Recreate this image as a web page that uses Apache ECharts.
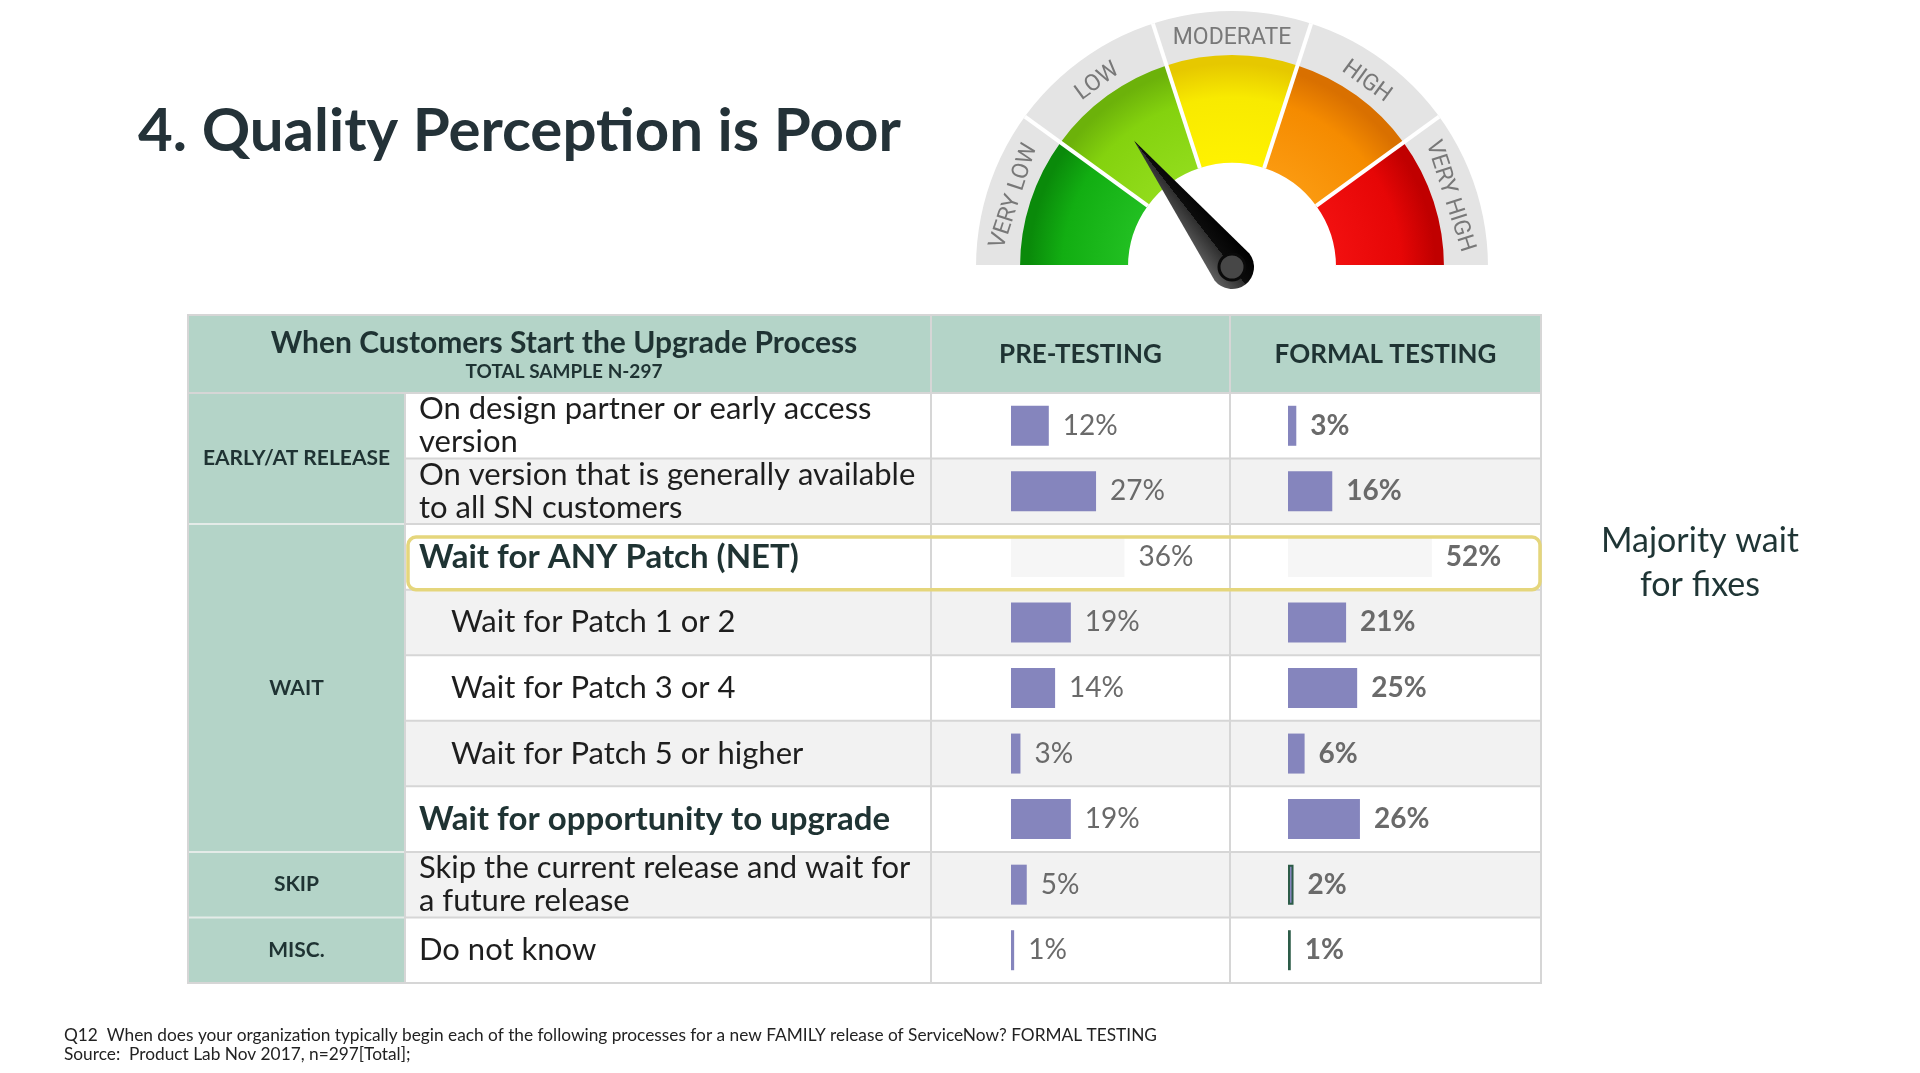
<!DOCTYPE html>
<html>
<head>
<meta charset="utf-8">
<title>Quality Perception is Poor</title>
<script src="https://cdn.jsdelivr.net/npm/echarts@6/dist/echarts.min.js"></script>
<style>
  html, body { margin: 0; padding: 0; background: #fff; }
  #mainChart { width: 1920px; height: 1073px; }
</style>
</head>
<body>
<div id="mainChart"></div>
<script>
// ---- data ----
var categories = [
    "On design partner or early access\nversion",
    "On version that is generally available\nto all SN customers",
    "Wait for ANY Patch (NET)",
    "Wait for Patch 1 or 2",
    "Wait for Patch 3 or 4",
    "Wait for Patch 5 or higher",
    "Wait for opportunity to upgrade",
    "Skip the current release and wait for\na future release",
    "Do not know"
];
var preTesting = [12, 27, 36, 19, 14, 3, 19, 5, 1];
var formalTesting = [3, 16, 52, 21, 25, 6, 26, 2, 1];
var groupNames = ["EARLY/AT RELEASE", "WAIT", "SKIP", "MISC."];
var groupSpans = [2, 5, 1, 1];
var columnTitles = ["PRE-TESTING", "FORMAL TESTING"];
var gaugeBands = ["VERY LOW", "LOW", "MODERATE", "HIGH", "VERY HIGH"];
var needleValue = 1.45;

(function () {
    "use strict";

    // ---- 表格几何 ----
    var COLS = [188, 405, 931, 1230, 1541];
    var HEAD_TOP = 315, BODY_TOP = 393, BODY_BOTTOM = 983;
    var rowH = (BODY_BOTTOM - BODY_TOP) / categories.length;
    var NET_ROW = 2;
    var boldRows = [2, 6];
    var indentRows = [3, 4, 5];
    var LINE = "#d6d6d6";
    var SAGE = "#b4d4c8";
    var INK = "#1f3333";
    var BAR = "#8585bd";
    var GC = [1232, 267];   // 仪表盘中心

    function rowTop(i) { return BODY_TOP + i * rowH; }

    var g = [];
    // 背景
    g.push({ type: "rect", z: -10, shape: { x: COLS[0], y: HEAD_TOP, width: COLS[4] - COLS[0], height: BODY_TOP - HEAD_TOP }, style: { fill: SAGE } });
    g.push({ type: "rect", z: -10, shape: { x: COLS[0], y: BODY_TOP, width: COLS[1] - COLS[0], height: BODY_BOTTOM - BODY_TOP }, style: { fill: SAGE } });
    categories.forEach(function (c, i) {
        g.push({ type: "rect", z: -10, shape: { x: COLS[1], y: rowTop(i), width: COLS[4] - COLS[1], height: rowH }, style: { fill: i % 2 ? "#f2f2f2" : "#ffffff" } });
        if (i > 0) {
            g.push({ type: "line", z: -5, shape: { x1: COLS[1], y1: rowTop(i), x2: COLS[4], y2: rowTop(i) }, style: { stroke: LINE, lineWidth: 2 } });
        }
    });
    // 分组分隔线 + 分组标签
    var acc = 0;
    groupNames.forEach(function (name, k) {
        var y0 = rowTop(acc), y1 = rowTop(acc + groupSpans[k]);
        if (acc > 0) {
            g.push({ type: "line", z: -5, shape: { x1: COLS[0], y1: y0, x2: COLS[1], y2: y0 }, style: { stroke: "#e4ebe8", lineWidth: 2 } });
        }
        g.push({ type: "text", z: 5, style: { text: name, x: (COLS[0] + COLS[1]) / 2, y: (y0 + y1) / 2, align: "center", verticalAlign: "middle", fill: INK, font: "bold 21px Lato" } });
        acc += groupSpans[k];
    });
    // 竖线 + 表头分隔
    g.push({ type: "line", z: -5, shape: { x1: COLS[1], y1: BODY_TOP, x2: COLS[1], y2: BODY_BOTTOM }, style: { stroke: LINE, lineWidth: 2 } });
    [COLS[2], COLS[3]].forEach(function (x) {
        g.push({ type: "line", z: -5, shape: { x1: x, y1: HEAD_TOP, x2: x, y2: BODY_BOTTOM }, style: { stroke: LINE, lineWidth: 2 } });
    });
    g.push({ type: "line", z: -5, shape: { x1: COLS[0], y1: BODY_TOP, x2: COLS[4], y2: BODY_TOP }, style: { stroke: LINE, lineWidth: 2 } });
    g.push({ type: "rect", z: -4, shape: { x: COLS[0], y: HEAD_TOP, width: COLS[4] - COLS[0], height: BODY_BOTTOM - HEAD_TOP }, style: { fill: null, stroke: LINE, lineWidth: 2 } });
    // NET 行高亮框
    g.push({ type: "rect", z: 6, shape: { x: COLS[1] + 3, y: rowTop(NET_ROW) + 13, width: COLS[4] - COLS[1] - 4, height: rowH - 13, r: 8 }, style: { fill: null, stroke: "#e5d67c", lineWidth: 3.5 } });
    // 表头文字
    g.push({ type: "text", z: 5, style: { text: "When Customers Start the Upgrade Process", x: 564, y: 343, align: "center", verticalAlign: "middle", fill: INK, font: "bold 30px Lato" } });
    g.push({ type: "text", z: 5, style: { text: "TOTAL SAMPLE N-297", x: 564, y: 372, align: "center", verticalAlign: "middle", fill: INK, font: "bold 19px Lato" } });
    columnTitles.forEach(function (t, k) {
        g.push({ type: "text", z: 5, style: { text: t, x: (COLS[2 + k] + COLS[3 + k]) / 2, y: 355, align: "center", verticalAlign: "middle", fill: INK, font: "bold 26px Lato" } });
    });
    // 右侧注释 + 脚注
    g.push({ type: "text", z: 5, style: { text: "Majority wait\nfor fixes", x: 1700, y: 563, align: "center", verticalAlign: "middle", lineHeight: 44, fill: "#1f3535", font: "34px Lato" } });
    g.push({ type: "text", z: 5, style: { text: "Q12  When does your organization typically begin each of the following processes for a new FAMILY release of ServiceNow? FORMAL TESTING", x: 64, y: 1035, verticalAlign: "middle", fill: "#222", font: "17.3px Lato" } });
    g.push({ type: "text", z: 5, style: { text: "Source:  Product Lab Nov 2017, n=297[Total];", x: 64, y: 1054, verticalAlign: "middle", fill: "#222", font: "17.3px Lato" } });

    // ---- 行标签（rich） ----
    function rowLabel(val, idx) {
        var key = boldRows.indexOf(idx) >= 0 ? "b" : (indentRows.indexOf(idx) >= 0 ? "i" : "n");
        return val.split("\n").map(function (l) { return "{" + key + "|" + l + "}"; }).join("\n");
    }

    var preData = preTesting.map(function (v, i) {
        return i === NET_ROW ? { value: v, itemStyle: { color: "#f6f6f6" } } : v;
    });
    var formalData = formalTesting.map(function (v, i) {
        if (i === NET_ROW) return { value: v, itemStyle: { color: "#f6f6f6" } };
        if (v <= 2) return { value: v, itemStyle: { color: BAR, borderColor: "#2d5c48", borderWidth: 2 } };
        return v;
    });

    // 仪表盘色带：径向渐变，外缘略暗
    function band(light, base, dark) {
        return {
            type: "radial", x: GC[0], y: GC[1], r: 212, global: true,
            colorStops: [
                { offset: 0.48, color: light },
                { offset: 0.8, color: base },
                { offset: 0.96, color: dark },
                { offset: 1, color: dark }
            ]
        };
    }
    var needleFill = {
        type: "linear", x: 0, y: 0, x2: 1, y2: 0,
        colorStops: [
            { offset: 0, color: "#5e5e5e" },
            { offset: 0.5, color: "#2e2e2e" },
            { offset: 0.5, color: "#0c0c0c" },
            { offset: 1, color: "#000000" }
        ]
    };

    var gridLeft = [1011, 1288];
    var labelBase = { show: true, position: "right", distance: 14, formatter: "{c}%", color: "#6a6a6a", fontSize: 28, fontFamily: "Lato" };

    var option = {
        backgroundColor: "#ffffff",
        animation: false,
        title: {
            text: "4. Quality Perception is Poor",
            left: 133, top: 97,
            textStyle: { fontSize: 60, fontWeight: "bold", color: "#243238", fontFamily: "Lato" }
        },
        graphic: g,
        grid: [
            { left: gridLeft[0], top: BODY_TOP, width: 189, height: BODY_BOTTOM - BODY_TOP },
            { left: gridLeft[1], top: BODY_TOP, width: 166, height: BODY_BOTTOM - BODY_TOP }
        ],
        xAxis: [
            { type: "value", gridIndex: 0, min: 0, max: 60, show: false },
            { type: "value", gridIndex: 1, min: 0, max: 60, show: false }
        ],
        yAxis: [
            {
                type: "category", gridIndex: 0, data: categories, inverse: true,
                axisLine: { show: false }, axisTick: { show: false }, splitLine: { show: false },
                axisLabel: {
                    interval: 0, margin: gridLeft[0] - 419, align: "left",
                    formatter: rowLabel,
                    rich: {
                        n: { fontSize: 31, color: "#1e1e1e", fontFamily: "Lato", lineHeight: 33 },
                        i: { fontSize: 31, color: "#1e1e1e", fontFamily: "Lato", lineHeight: 33, padding: [0, 0, 0, 32] },
                        b: { fontSize: 33, color: INK, fontFamily: "Lato", fontWeight: "bold", lineHeight: 33 }
                    }
                }
            },
            { type: "category", gridIndex: 1, data: categories, inverse: true, show: false }
        ],
        series: [
            {
                type: "gauge", name: "ring", center: GC, radius: 256,
                startAngle: 180, endAngle: -0.01, min: 0, max: 10, splitNumber: 10,
                axisLine: { lineStyle: { width: 46, color: [[1, "#e4e4e4"]] } },
                splitLine: { show: false, length: 0, distance: 0 },
                axisTick: { show: false },
                axisLabel: {
                    distance: 27, rotate: "tangential", color: "#787878", fontSize: 23, fontFamily: "Roboto",
                    formatter: function (v) { return v % 2 === 1 ? gaugeBands[(v - 1) / 2] : ""; }
                },
                pointer: { show: false }, anchor: { show: false },
                title: { show: false }, detail: { show: false },
                data: [{ value: 0 }]
            },
            {
                type: "gauge", name: "band", center: GC, radius: 212,
                startAngle: 180, endAngle: 0, min: 0, max: 5, splitNumber: 5,
                axisLine: {
                    lineStyle: {
                        width: 108,
                        color: [
                            [0.2, band("#22c022", "#12ae12", "#0a8a0a")],
                            [0.4, band("#92dc1c", "#84d20e", "#6cb20a")],
                            [0.6, band("#fff200", "#f8ea00", "#e6c800")],
                            [0.8, band("#fb9a10", "#f58b00", "#d97000")],
                            [1, band("#f21010", "#e60606", "#c00000")]
                        ]
                    }
                },
                splitLine: { show: true, distance: -152, length: 152, lineStyle: { color: "#ffffff", width: 4 } },
                axisTick: { show: false }, axisLabel: { show: false },
                pointer: {
                    show: true,
                    icon: "path://M22,0 L0,160 A22,22 0 0,0 44,160 Z",
                    length: 182, width: 44, offsetCenter: [0, 22], keepAspect: false,
                    itemStyle: { color: needleFill }
                },
                anchor: { show: true, showAbove: true, size: 26, itemStyle: { color: "#474747", borderColor: "#0a0a0a", borderWidth: 3 } },
                title: { show: false }, detail: { show: false },
                data: [{ value: needleValue }]
            },
            {
                type: "bar", name: columnTitles[0], xAxisIndex: 0, yAxisIndex: 0, barWidth: 40,
                data: preData, itemStyle: { color: BAR },
                label: labelBase
            },
            {
                type: "bar", name: columnTitles[1], xAxisIndex: 1, yAxisIndex: 1, barWidth: 40,
                data: formalData, itemStyle: { color: BAR },
                label: Object.assign({}, labelBase, { fontWeight: "bold" })
            }
        ]
    };

    var chart = echarts.init(document.getElementById("mainChart"));
    chart.setOption(option);
})();
</script>
</body>
</html>
